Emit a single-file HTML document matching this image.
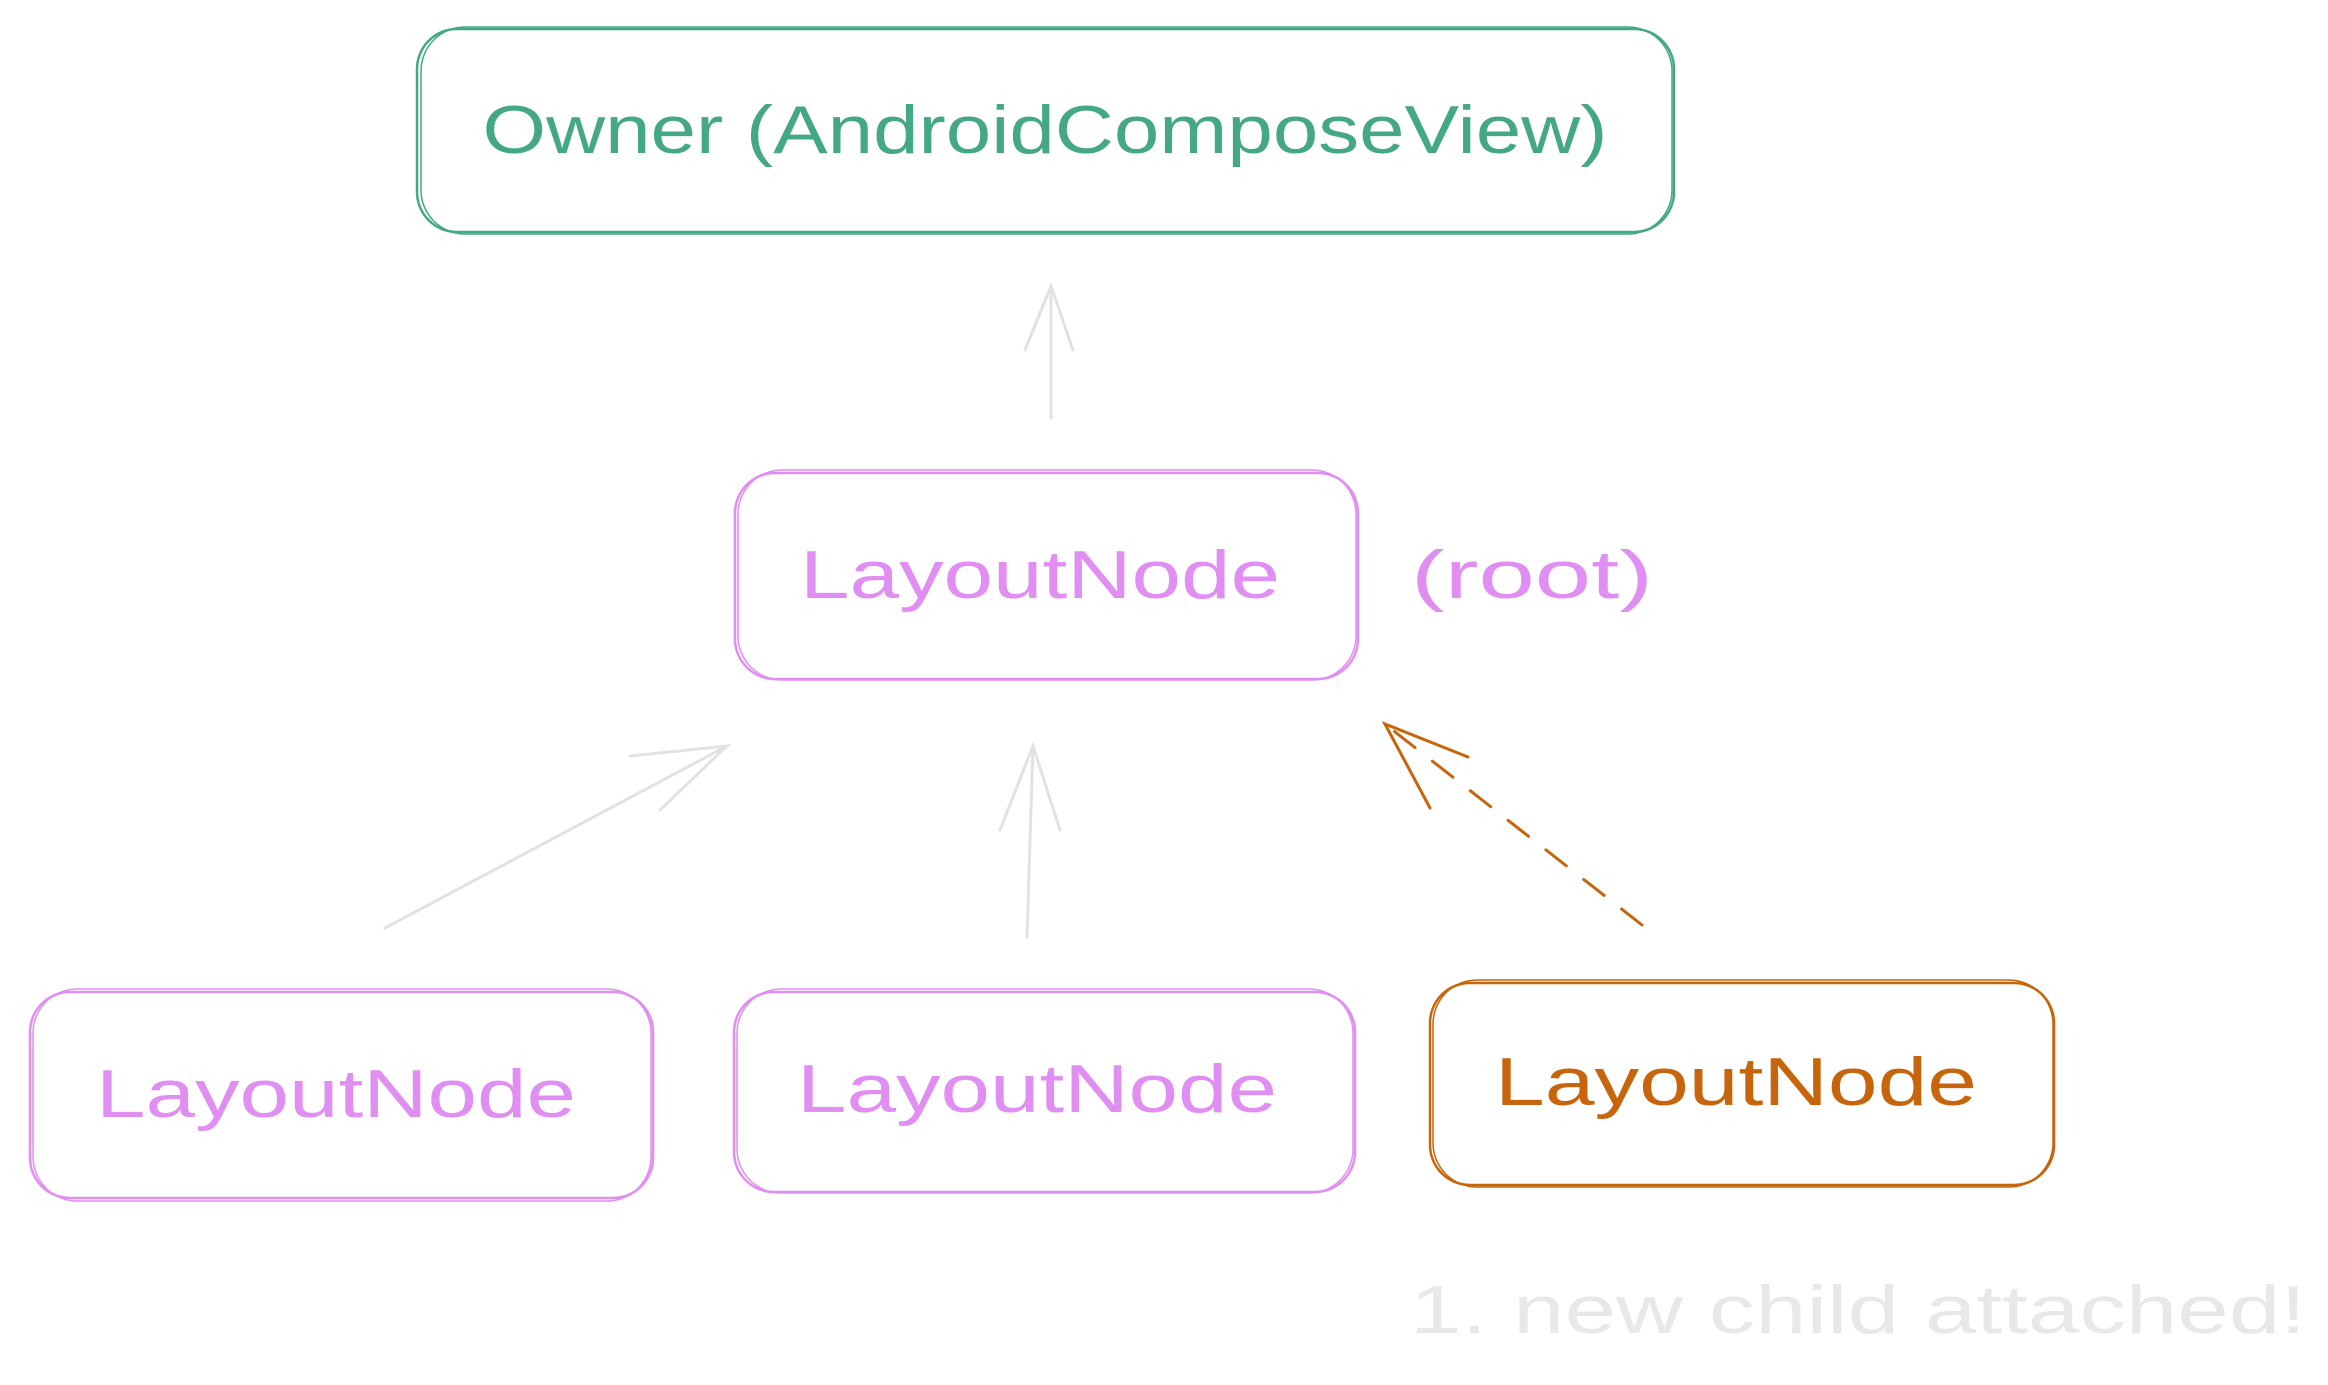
<!DOCTYPE html>
<html><head><meta charset="utf-8"><style>
html,body{margin:0;padding:0;background:#fff;}
svg{display:block;}
text{font-family:"Liberation Sans",sans-serif;}
</style></head><body>
<svg width="2328" height="1385" viewBox="0 0 2328 1385" xmlns="http://www.w3.org/2000/svg">
<g fill="none" stroke-width="2.5" stroke-linecap="round">
  <!-- Owner -->
  <rect x="417" y="29" width="1257" height="203" rx="40" stroke="#45a884"/>
  <rect x="421" y="27" width="1251" height="207" rx="44" stroke="#45a884" stroke-width="1.5"/>
  <!-- root -->
  <rect x="735" y="473" width="623" height="206" rx="40" stroke="#e08ef2"/>
  <rect x="738" y="470" width="618" height="210" rx="44" stroke="#e08ef2" stroke-width="1.5"/>
  <!-- bottom left -->
  <rect x="30" y="992" width="623" height="206" rx="40" stroke="#e08ef2"/>
  <rect x="33" y="989" width="618" height="212" rx="44" stroke="#e08ef2" stroke-width="1.5"/>
  <!-- bottom middle -->
  <rect x="734" y="992" width="621" height="200" rx="40" stroke="#e08ef2"/>
  <rect x="737" y="989" width="616" height="204" rx="44" stroke="#e08ef2" stroke-width="1.5"/>
  <!-- bottom right -->
  <rect x="1430" y="983" width="624" height="202" rx="40" stroke="#c7650c"/>
  <rect x="1433" y="980" width="620" height="207" rx="44" stroke="#c7650c" stroke-width="1.5"/>
  <!-- arrows grey -->
  <g stroke="#e2e2e2" stroke-width="3">
    <path d="M1051 418 L1051 286 M1025 350 L1051 286 L1073 350"/>
    <path d="M385 928 L727 746 M630 756 L727 746 L660 810"/>
    <path d="M1027 937 L1033 746 M1000 830 L1033 746 L1060 830"/>
  </g>
  <!-- orange dashed -->
  <path d="M1642 925 L1390 728" stroke="#c7650c" stroke-width="3" stroke-dasharray="26 22"/>
  <path d="M1430 808 L1385 724 L1468 757" stroke="#c7650c" stroke-width="3"/>
</g>
<g font-size="68" text-anchor="middle" dominant-baseline="central">
  <text x="1045" y="130" fill="#45a884" textLength="1125" lengthAdjust="spacingAndGlyphs">Owner (AndroidComposeView)</text>
  <text x="1040" y="575" fill="#e08ef2" textLength="480" lengthAdjust="spacingAndGlyphs">LayoutNode</text>
  <text x="1532" y="575" fill="#e08ef2" textLength="242" lengthAdjust="spacingAndGlyphs">(root)</text>
  <text x="336" y="1094" fill="#e08ef2" textLength="480" lengthAdjust="spacingAndGlyphs">LayoutNode</text>
  <text x="1037" y="1089" fill="#e08ef2" textLength="480" lengthAdjust="spacingAndGlyphs">LayoutNode</text>
  <text x="1736" y="1082" fill="#c7650c" textLength="482" lengthAdjust="spacingAndGlyphs">LayoutNode</text>
  <text x="1858" y="1310" fill="#e8e8e8" textLength="896" lengthAdjust="spacingAndGlyphs">1. new child attached!</text>
</g>
</svg>
</body></html>
